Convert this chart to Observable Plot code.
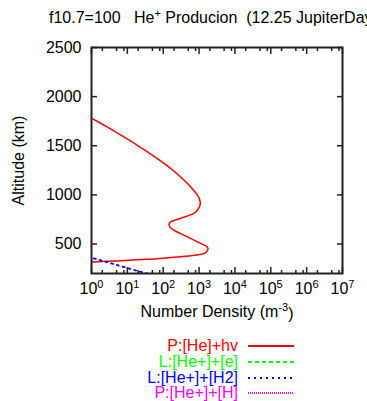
<!DOCTYPE html>
<html>
<head>
<meta charset="utf-8">
<script src="https://cdn.jsdelivr.net/npm/d3@7"></script>
<script src="https://cdn.jsdelivr.net/npm/@observablehq/plot@0.6"></script>
<style>
  html, body { margin: 0; padding: 0; background: #fff; }
  body { width: 367px; height: 401px; position: relative; overflow: hidden;
         font-family: "Liberation Sans", Arial, Helvetica, sans-serif; }
  #title { position: absolute; left: 49px; top: 10px; font-size: 16px; line-height: 16px;
           white-space: pre; color: #000; }
  #title sup { font-size: 11px; vertical-align: 6px; line-height: 0; }
  #chart { position: absolute; left: 0; top: 0; }
  .leg { position: absolute; left: 0; width: 367px; height: 16px; }
  .leg span { position: absolute; right: 129px; top: 0; font-size: 16px; line-height: 16px; white-space: pre; }
  .leg svg { position: absolute; left: 246px; top: 0; }
</style>
</head>
<body>
<div id="title">f10.7=100   He<sup>+</sup> Producion  (12.25 JupiterDays)</div>
<div id="chart"></div>
<div id="legend"></div>
<script>
// ---- data ----
// He+ production, P:[He]+hv  (altitude km, number density m^-3)
const redAlt = [310, 317, 327, 344, 371, 388, 411, 449, 472, 507, 557, 608, 642, 665, 685, 703, 725, 760, 811, 840, 870, 900, 946, 1000, 1050, 1100, 1200, 1300, 1400, 1500, 1600, 1700, 1782, 1850];
const redDens = [0.4, 1, 4.2, 35, 300, 870, 1500, 1780, 1660, 1100, 575, 300, 195, 160, 148, 145, 160, 300, 710, 870, 1000, 1070, 1050, 890, 690, 525, 270, 126, 52, 20, 7.2, 2.5, 1, 0.5];
// L:[He+]+[H2]
const blueAlt = [370, 354, 330, 300, 270, 240, 208, 190];
const blueDens = [0.8, 1.15, 2.0, 3.8, 7.4, 14, 29, 45];
// L:[He+]+[e] and P:[He+]+[H] fall outside the plotted range
const greenAlt = [];
const greenDens = [];
const magentaAlt = [];
const magentaDens = [];

const xMajor = [1e0, 1e1, 1e2, 1e3, 1e4, 1e5, 1e6, 1e7];
const xMinorMult = [2, 5, 8];
const yMajor = [500, 1000, 1500, 2000, 2500];

const legendItems = [
  {label: "P:[He]+hv", color: "#ff0000", dash: null, width: 2},
  {label: "L:[He+]+[e]", color: "#00ff00", dash: "4,3", width: 2},
  {label: "L:[He+]+[H2]", color: "#0000ff", dash: "2,4", width: 2},
  {label: "P:[He+]+[H]", color: "#ff00ff", dash: "1,1", width: 2}
];

// ---- build tables ----
const red = redAlt.map((a, i) => ({alt: a, dens: redDens[i]}));
const blue = blueAlt.map((a, i) => ({alt: a, dens: blueDens[i]}));
const green = greenAlt.map((a, i) => ({alt: a, dens: greenDens[i]}));
const magenta = magentaAlt.map((a, i) => ({alt: a, dens: magentaDens[i]}));
const xMinor = xMajor.slice(0, -1).flatMap(d => xMinorMult.map(m => d * m));

const axisColor = "#222";
const font = "Liberation Sans, Arial, Helvetica, sans-serif";

const plot = Plot.plot({
  width: 367,
  height: 330,
  marginLeft: 91,
  marginRight: 25,
  marginTop: 47,
  marginBottom: 57,
  style: {fontFamily: font, fontSize: "16px", color: "#000", background: "transparent"},
  x: {type: "log", domain: [1, 1e7]},
  y: {domain: [200, 2500]},
  marks: [
    Plot.line(red, {x: "dens", y: "alt", stroke: "#ff0000", strokeWidth: 1.5, curve: "catmull-rom", clip: true}),
    Plot.line(green, {x: "dens", y: "alt", stroke: "#00ff00", strokeWidth: 1.5, strokeDasharray: "4,3", clip: true}),
    Plot.line(blue, {x: "dens", y: "alt", stroke: "#0000ff", strokeWidth: 1.8, strokeDasharray: "2,4", clip: true}),
    Plot.line(magenta, {x: "dens", y: "alt", stroke: "#ff00ff", strokeWidth: 1.5, strokeDasharray: "1,1", clip: true}),
    // ticks pointing inward, on all four sides
    Plot.axisX({anchor: "bottom", ticks: xMajor, tickSize: -6, tickFormat: () => "", label: null, stroke: axisColor, strokeWidth: 1.5}),
    Plot.axisX({anchor: "bottom", ticks: xMinor, tickSize: -3, tickFormat: () => "", label: null, stroke: axisColor, strokeWidth: 1.5}),
    Plot.axisX({anchor: "top", ticks: xMajor, tickSize: -6, tickFormat: () => "", label: null, stroke: axisColor, strokeWidth: 1.5}),
    Plot.axisX({anchor: "top", ticks: xMinor, tickSize: -3, tickFormat: () => "", label: null, stroke: axisColor, strokeWidth: 1.5}),
    Plot.axisY({anchor: "left", ticks: yMajor, tickSize: -6, tickFormat: () => "", label: null, stroke: axisColor, strokeWidth: 1.5}),
    Plot.axisY({anchor: "right", ticks: yMajor, tickSize: -6, tickFormat: () => "", label: null, stroke: axisColor, strokeWidth: 1.5}),
    // tick labels
    Plot.axisX({anchor: "bottom", ticks: xMajor, tickSize: 0, tickPadding: 9, label: null, fontSize: 16,
      tickFormat: d => "10^" + Math.round(Math.log10(d))}),
    Plot.axisY({anchor: "left", ticks: yMajor, tickSize: 0, tickPadding: 10, label: null, fontSize: 16,
      tickFormat: d => String(d)}),
    // axis titles
    Plot.text(["Number Density (m^{-3})"], {frameAnchor: "bottom", text: d => d, dy: 38, lineAnchor: "middle", textAnchor: "middle", fontSize: 16, fill: "#000"}),
    Plot.text(["Altitude (km)"], {frameAnchor: "left", text: d => d, dx: -73, rotate: -90, lineAnchor: "middle", textAnchor: "middle", fontSize: 16, fill: "#000"}),
    Plot.frame({stroke: axisColor, strokeWidth: 2})
  ]
});

// superscripts: "a^b" or "a^{bc}"
d3.select(plot).selectAll("text").each(function() {
  const el = this;
  if (el.querySelector("tspan")) return;
  const s = el.textContent;
  const m = s.match(/^(.*?)\^(?:\{([^}]*)\}|(.))(.*)$/);
  if (!m) return;
  const base = m[1], sup = m[2] !== undefined ? m[2] : m[3], rest = m[4];
  el.textContent = "";
  const t = d3.select(el);
  t.append("tspan").text(base);
  t.append("tspan").attr("dy", "-0.5em").attr("font-size", "11px").text(sup);
  if (rest) t.append("tspan").attr("dy", "0.5em").text(rest);
});

document.getElementById("chart").appendChild(plot);

// ---- legend ----
const legend = d3.select("#legend");
legendItems.forEach((it, i) => {
  const cy = 346 + i * 15.8;
  const row = legend.append("div").attr("class", "leg").style("top", (cy - 8) + "px");
  row.append("span").style("color", it.color).text(it.label);
  const svg = row.append("svg").attr("width", 52).attr("height", 16);
  svg.append("line").attr("x1", 2).attr("x2", 48).attr("y1", 8).attr("y2", 8)
    .attr("stroke", it.color).attr("stroke-width", it.width)
    .attr("stroke-dasharray", it.dash);
});
</script>
</body>
</html>
